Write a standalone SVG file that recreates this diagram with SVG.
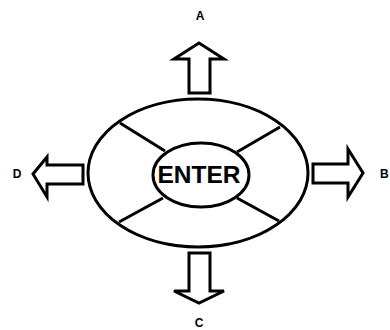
<svg xmlns="http://www.w3.org/2000/svg" width="390" height="330" viewBox="0 0 390 330">
<style>
.ln{fill:none;stroke:#000;stroke-width:3}
.ar{fill:#fff;stroke:#000;stroke-width:3;stroke-linejoin:miter}
.lb{font-family:"Liberation Sans",Arial,sans-serif;font-weight:bold;font-size:12px;fill:#000}
.en{font-family:"Liberation Sans",Arial,sans-serif;font-weight:bold;font-size:23px;fill:#000}
</style>
<rect width="390" height="330" fill="#fff"/>
<g id="wheel">
<ellipse class="ln" cx="198" cy="173" rx="110" ry="74"/>
</g>
<g id="connectors">
<line class="ln" x1="120" y1="123" x2="165" y2="151"/>
<line class="ln" x1="280" y1="127" x2="237" y2="152"/>
<line class="ln" x1="119" y1="222" x2="163" y2="198"/>
<line class="ln" x1="279" y1="221" x2="237" y2="198"/>
</g>
<g id="enter">
<ellipse class="ln" cx="201" cy="175" rx="48" ry="32"/>
<text class="en" x="199" y="183" text-anchor="middle" textLength="83" lengthAdjust="spacingAndGlyphs">ENTER</text>
</g>
<g id="arrowA">
<polygon class="ar" points="189,93 189,59 174,59 199,43 224,59 210,59 210,93"/>
<text class="lb" x="200" y="20" text-anchor="middle">A</text>
</g>
<g id="arrowC">
<polygon class="ar" points="189,253 189,291 174,291 199,303 224,291 210,291 210,253"/>
<text class="lb" x="199" y="327" text-anchor="middle">C</text>
</g>
<g id="arrowD">
<polygon class="ar" points="83,165 47,165 47,157 33,174 47,197 47,184 83,184"/>
<text class="lb" x="17" y="178" text-anchor="middle">D</text>
</g>
<g id="arrowB">
<polygon class="ar" points="313,164 348,164 348,149 363,173 348,197 348,183 313,183"/>
<text class="lb" x="380" y="178">B</text>
</g>
</svg>
